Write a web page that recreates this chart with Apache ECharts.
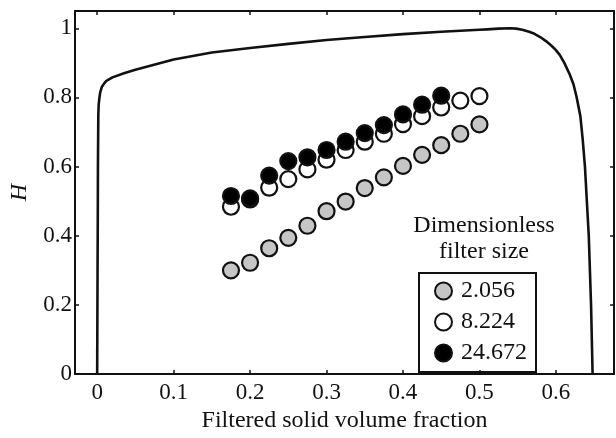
<!DOCTYPE html>
<html>
<head>
<meta charset="utf-8">
<script src="https://cdn.jsdelivr.net/npm/echarts@6/dist/echarts.min.js"></script>
<style>
  html, body { margin: 0; padding: 0; background: #fff; }
  #chart { width: 616px; height: 438px; }
</style>
</head>
<body>
<div id="chart"></div>
<script>
const xTicks = [0, 0.1, 0.2, 0.3, 0.4, 0.5, 0.6]
const yTicks = [0, 0.2, 0.4, 0.6, 0.8, 1]

// filter sizes (legend)
const sizeNames = ['2.056', '8.224', '24.672']

const phiGray = [0.175, 0.2, 0.225, 0.25, 0.275, 0.3, 0.325, 0.35, 0.375, 0.4, 0.425, 0.45, 0.475, 0.5]
const hGray = [0.300, 0.322, 0.364, 0.394, 0.429, 0.471, 0.499, 0.538, 0.569, 0.602, 0.634, 0.662, 0.695, 0.722]

const phiWhite = [0.175, 0.2, 0.225, 0.25, 0.275, 0.3, 0.325, 0.35, 0.375, 0.4, 0.425, 0.45, 0.475, 0.5]
const hWhite = [0.484, 0.505, 0.539, 0.564, 0.592, 0.620, 0.648, 0.672, 0.695, 0.723, 0.746, 0.771, 0.791, 0.804]

const phiBlack = [0.175, 0.2, 0.225, 0.25, 0.275, 0.3, 0.325, 0.35, 0.375, 0.4, 0.425, 0.45]
const hBlack = [0.515, 0.508, 0.574, 0.616, 0.627, 0.648, 0.672, 0.697, 0.720, 0.751, 0.779, 0.805]

// upper curve
const curvePhi = [0, 0.0005, 0.0008, 0.001, 0.0015, 0.002, 0.003, 0.004, 0.006, 0.009, 0.012, 0.02, 0.035, 0.05, 0.1, 0.15, 0.2, 0.25, 0.3, 0.35, 0.4, 0.45, 0.5, 0.51, 0.525, 0.54, 0.548, 0.556, 0.565, 0.572, 0.58, 0.587, 0.595, 0.6, 0.605, 0.611, 0.618, 0.623, 0.627, 0.632, 0.635, 0.638, 0.643, 0.646, 0.648]
const curveH = [0, 0.3, 0.45, 0.6, 0.75, 0.78, 0.8, 0.815, 0.83, 0.84, 0.848, 0.858, 0.87, 0.88, 0.91, 0.93, 0.943, 0.955, 0.966, 0.975, 0.983, 0.99, 0.996, 0.997, 0.999, 1.0, 0.999, 0.996, 0.99, 0.984, 0.974, 0.963, 0.948, 0.937, 0.923, 0.9, 0.867, 0.838, 0.802, 0.746, 0.68, 0.6, 0.4, 0.2, 0]

const font = '"Liberation Serif", "DejaVu Serif", serif'
const ink = '#111'

function zip(a, b) {
  return a.map((v, i) => [v, b[i]])
}

function axisX(position, showLabel) {
  return {
    type: 'value',
    position: position,
    min: -0.029,
    max: 0.676,
    axisLine: { show: true, onZero: false, lineStyle: { color: ink, width: 2 } },
    axisTick: { show: true, inside: true, length: 4, customValues: xTicks, lineStyle: { color: ink, width: 1.5 } },
    axisLabel: {
      show: showLabel,
      customValues: xTicks,
      margin: 7,
      color: ink,
      fontFamily: font,
      fontSize: 23,
      formatter: (v) => String(v),
    },
    splitLine: { show: false },
  }
}

function axisY(position, showLabel) {
  return {
    type: 'value',
    position: position,
    min: 0,
    max: 1.05,
    axisLine: { show: true, onZero: false, lineStyle: { color: ink, width: 2 } },
    axisTick: { show: true, inside: true, length: 4, customValues: yTicks, lineStyle: { color: ink, width: 1.5 } },
    axisLabel: {
      show: showLabel,
      customValues: yTicks,
      margin: 3,
      color: ink,
      fontFamily: font,
      fontSize: 23,
      formatter: (v) => String(v),
    },
    splitLine: { show: false },
  }
}

const chart = echarts.init(document.getElementById('chart'))

const xMain = axisX('bottom', true)
xMain.name = 'Filtered solid volume fraction'
xMain.nameLocation = 'middle'
xMain.nameGap = 31
xMain.nameTextStyle = { color: ink, fontFamily: font, fontSize: 24 }

const yMain = axisY('left', true)
yMain.name = 'H'
yMain.nameLocation = 'middle'
yMain.nameGap = 43
yMain.nameTextStyle = { color: ink, fontFamily: font, fontSize: 24, fontStyle: 'italic' }

const markerStyle = (fill) => ({ color: fill, borderColor: ink, borderWidth: 2.2, opacity: 1 })

chart.setOption({
  animation: false,
  grid: { left: 73, right: 2, top: 11, bottom: 52, containLabel: false },
  xAxis: [xMain, axisX('top', false)],
  yAxis: [yMain, axisY('right', false)],
  legend: {
    data: sizeNames,
    orient: 'vertical',
    left: 419,
    top: 273,
    itemWidth: 17,
    itemHeight: 17,
    itemGap: 7,
    padding: [6, 9, 7, 15],
    borderColor: ink,
    borderWidth: 2,
    icon: 'circle',
    textStyle: { color: ink, fontFamily: font, fontSize: 24, lineHeight: 22, padding: [0, 0, 0, 4] },
  },
  graphic: [
    {
      type: 'text',
      x: 484,
      y: 213,
      style: {
        text: 'Dimensionless\nfilter size',
        textAlign: 'center',
        textVerticalAlign: 'top',
        font: '24px ' + font,
        lineHeight: 26,
        fill: ink,
      },
    },
  ],
  series: [
    {
      type: 'line',
      data: zip(curvePhi, curveH),
      showSymbol: false,
      smooth: false,
      lineStyle: { color: ink, width: 2.6, join: 'round' },
      z: 1,
    },
    {
      name: sizeNames[0],
      type: 'scatter',
      data: zip(phiGray, hGray),
      symbol: 'circle',
      symbolSize: 16,
      itemStyle: markerStyle('#c6c6c6'),
      z: 2,
    },
    {
      name: sizeNames[1],
      type: 'scatter',
      data: zip(phiWhite, hWhite),
      symbol: 'circle',
      symbolSize: 16,
      itemStyle: markerStyle('#ffffff'),
      z: 3,
    },
    {
      name: sizeNames[2],
      type: 'scatter',
      data: zip(phiBlack, hBlack),
      symbol: 'circle',
      symbolSize: 16,
      itemStyle: markerStyle('#000000'),
      z: 4,
    },
  ],
})
</script>
</body>
</html>
